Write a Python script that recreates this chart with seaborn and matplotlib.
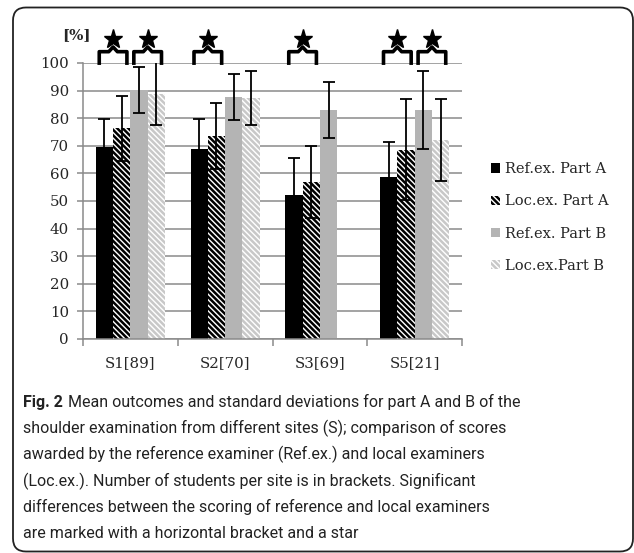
"""
Mean outcomes and SDs for part A and B of the shoulder examination,
reference vs local examiners, per site. Writes out.png.
"""
import matplotlib
matplotlib.use("Agg")
import matplotlib.pyplot as plt
import matplotlib.patches as mpatches
from matplotlib import font_manager as fm
import numpy as np
import pandas as pd
import seaborn as sns

sns.set_style("white")
plt.rcParams["hatch.linewidth"] = 1.8

SITES = ["S1[89]", "S2[70]", "S3[69]", "S5[21]"]
SERIES = ["Ref.ex. Part A", "Loc.ex. Part A", "Ref.ex. Part B", "Loc.ex.Part B"]

REF_A_MEAN = [69.5, 68.7, 52.0, 58.7]
REF_A_SD = [10.2, 11.0, 13.4, 12.8]
LOC_A_MEAN = [76.4, 73.6, 56.8, 68.6]
LOC_A_SD = [11.8, 11.9, 13.1, 18.2]
REF_B_MEAN = [90.2, 87.6, 83.0, 83.0]
REF_B_SD = [8.3, 8.4, 10.0, 14.1]
LOC_B_MEAN = [88.8, 87.4, np.nan, 72.2]
LOC_B_SD = [11.4, 9.7, np.nan, 14.9]

# significant pairs: (site index, left series index, right series index)
SIGNIF = [(0, 0, 1), (0, 2, 3), (1, 0, 1), (2, 0, 1), (3, 0, 1), (3, 2, 3)]

CAPTION = [
    "Mean outcomes and standard deviations for part A and B of the",
    "shoulder examination from different sites (S); comparison of scores",
    "awarded by the reference examiner (Ref.ex.) and local examiners",
    "(Loc.ex.). Number of students per site is in brackets. Significant",
    "differences between the scoring of reference and local examiners",
    "are marked with a horizontal bracket and a star",
]

FACES = ["#000000", "#ffffff", "#b4b4b4", "#ffffff"]
HATCH_COLORS = [None, "#000000", None, "#c8c8c8"]
HATCHES = [None, "\\\\\\\\\\\\", None, "\\\\\\\\\\\\"]

W, H = 634, 553
DPI = 100
GROUP_W = 0.73
SERIF = "DejaVu Serif"


def px_x(x):
    return x / W


def px_y(y):
    return 1 - y / H


def pick_caption_fonts():
    """Narrowest available sans for the caption (regular, bold)."""
    prefs = [("Liberation Sans Narrow", None), ("Noto Sans", "semi-condensed"),
             ("Noto Sans", "condensed"), ("Open Sans", "condensed"),
             ("Roboto", "condensed")]
    for name, stretch in prefs:
        reg, bold = None, None
        for f in fm.fontManager.ttflist:
            if f.name != name or f.style != "normal":
                continue
            if stretch is not None and f.stretch != stretch:
                continue
            w = f.weight if isinstance(f.weight, int) else (700 if "bold" in str(f.weight) else 400)
            if w == 400 and reg is None:
                reg = f.fname
            if w == 700 and bold is None:
                bold = f.fname
        if reg and bold:
            return fm.FontProperties(fname=reg), fm.FontProperties(fname=bold)
    return (fm.FontProperties(family="Roboto"),
            fm.FontProperties(family="Roboto", weight="bold"))


means = [REF_A_MEAN, LOC_A_MEAN, REF_B_MEAN, LOC_B_MEAN]
sds = [REF_A_SD, LOC_A_SD, REF_B_SD, LOC_B_SD]
rows = []
for s, m in zip(SERIES, means):
    for site, v in zip(SITES, m):
        rows.append({"site": site, "series": s, "value": v})
df = pd.DataFrame(rows)

fig = plt.figure(figsize=(W / DPI, H / DPI), dpi=DPI)
ax = fig.add_axes([px_x(83), px_y(339), px_x(462) - px_x(83), px_y(63) - px_y(339)])

sns.barplot(data=df, x="site", y="value", hue="series", order=SITES,
            hue_order=SERIES, palette=FACES, saturation=1, width=GROUP_W,
            errorbar=None, legend=False, ax=ax, zorder=2)

bw = GROUP_W / len(SERIES)
bar_containers = list(ax.containers)
for j, cont in enumerate(bar_containers):
    for bar in cont:
        bar.set_linewidth(0)
        if HATCHES[j]:
            bar.set_hatch(HATCHES[j])
            bar.set_edgecolor(HATCH_COLORS[j])
        cx = bar.get_x() + bar.get_width() / 2
        i = int(round(cx))
        if np.isnan(sds[j][i]):
            continue
        ax.errorbar(cx, means[j][i], yerr=sds[j][i], color="black",
                    elinewidth=1.3, capsize=4, capthick=1.3, zorder=4)

ax.set_xlim(-0.5, len(SITES) - 0.5)
ax.set_ylim(0, 100)
ax.set_yticks(range(0, 101, 10))
ax.yaxis.grid(True, color="#8a8a8a", linewidth=1.1, zorder=0)
ax.set_axisbelow(True)
ax.set_xlabel("")
ax.set_ylabel("")
for side in ["top", "right"]:
    ax.spines[side].set_visible(False)
for side in ["left", "bottom"]:
    ax.spines[side].set_color("#8a8a8a")
    ax.spines[side].set_linewidth(1.1)
ax.tick_params(axis="y", left=True, length=4, color="#8a8a8a", width=1.1,
               pad=6, labelsize=10.8, labelfontfamily=SERIF)
ax.tick_params(axis="x", which="major", length=0, pad=12, labelsize=10.8,
               labelfontfamily=SERIF)
ax.set_xticks(np.arange(-0.5, len(SITES)), minor=True)
ax.tick_params(axis="x", which="minor", bottom=True, length=5,
               color="#8a8a8a", width=1.1)

# significance brackets with stars
for site, a, b in SIGNIF:
    xa = site + (a - 1.5) * bw - 0.3 * bw
    xb = site + (b - 1.5) * bw + 0.3 * bw
    xm = (xa + xb) / 2
    d = 0.25 * bw
    ax.plot([xa, xa, xm - d, xm, xm + d, xb, xb],
            [99.3, 104.1, 104.1, 105.8, 104.1, 104.1, 99.3],
            color="black", linewidth=2.6, solid_joinstyle="round",
            solid_capstyle="butt", clip_on=False, zorder=6)
    ax.plot(xm, 108.6, marker="*", markersize=14, color="black",
            clip_on=False, zorder=6)

fig.text(px_x(76), px_y(35), "[%]", fontsize=10.8, fontweight="bold",
         family=SERIF, ha="center", va="center")

handles = [
    mpatches.Patch(facecolor=FACES[j], edgecolor=HATCH_COLORS[j] or FACES[j],
                   hatch=HATCHES[j], linewidth=0, label=SERIES[j])
    for j in range(len(SERIES))
]
fig.legend(handles=handles, loc="center left",
           bbox_to_anchor=(px_x(491), px_y(217.5)), frameon=False,
           prop={"family": SERIF, "size": 10.5}, handlelength=0.6,
           handleheight=0.6, handletextpad=0.35, labelspacing=1.25,
           borderpad=0, borderaxespad=0)

# caption
cap_reg, cap_bold = pick_caption_fonts()
baselines = [406.7, 433.3, 459.6, 485.8, 512.0, 538.0]
renderer = fig.canvas.get_renderer()
probe = fig.text(0, 0, CAPTION[1], fontproperties=cap_reg, fontsize=11)
pw = probe.get_window_extent(renderer).width
probe.remove()
cap_size = min(15.0, 11 * 478 / pw)

fig_lbl = fig.text(px_x(23), px_y(baselines[0]), "Fig. 2", fontproperties=cap_bold,
                   fontsize=cap_size, va="baseline", color="#222222")
lw = fig_lbl.get_window_extent(renderer).width
fig.text(px_x(23 + lw + 5), px_y(baselines[0]), CAPTION[0],
         fontproperties=cap_reg, fontsize=cap_size, va="baseline", color="#222222")
for line, y in zip(CAPTION[1:], baselines[1:]):
    fig.text(px_x(23), px_y(y), line, fontproperties=cap_reg, fontsize=cap_size,
             va="baseline", color="#222222")

border = mpatches.FancyBboxPatch(
    (0.13, 0.015), 6.20, 5.44,
    boxstyle=mpatches.BoxStyle("Round", pad=0, rounding_size=0.13),
    transform=fig.dpi_scale_trans, facecolor="none", edgecolor="#222222",
    linewidth=1.3)
fig.patches.append(border)

fig.savefig("out.png", dpi=DPI)
